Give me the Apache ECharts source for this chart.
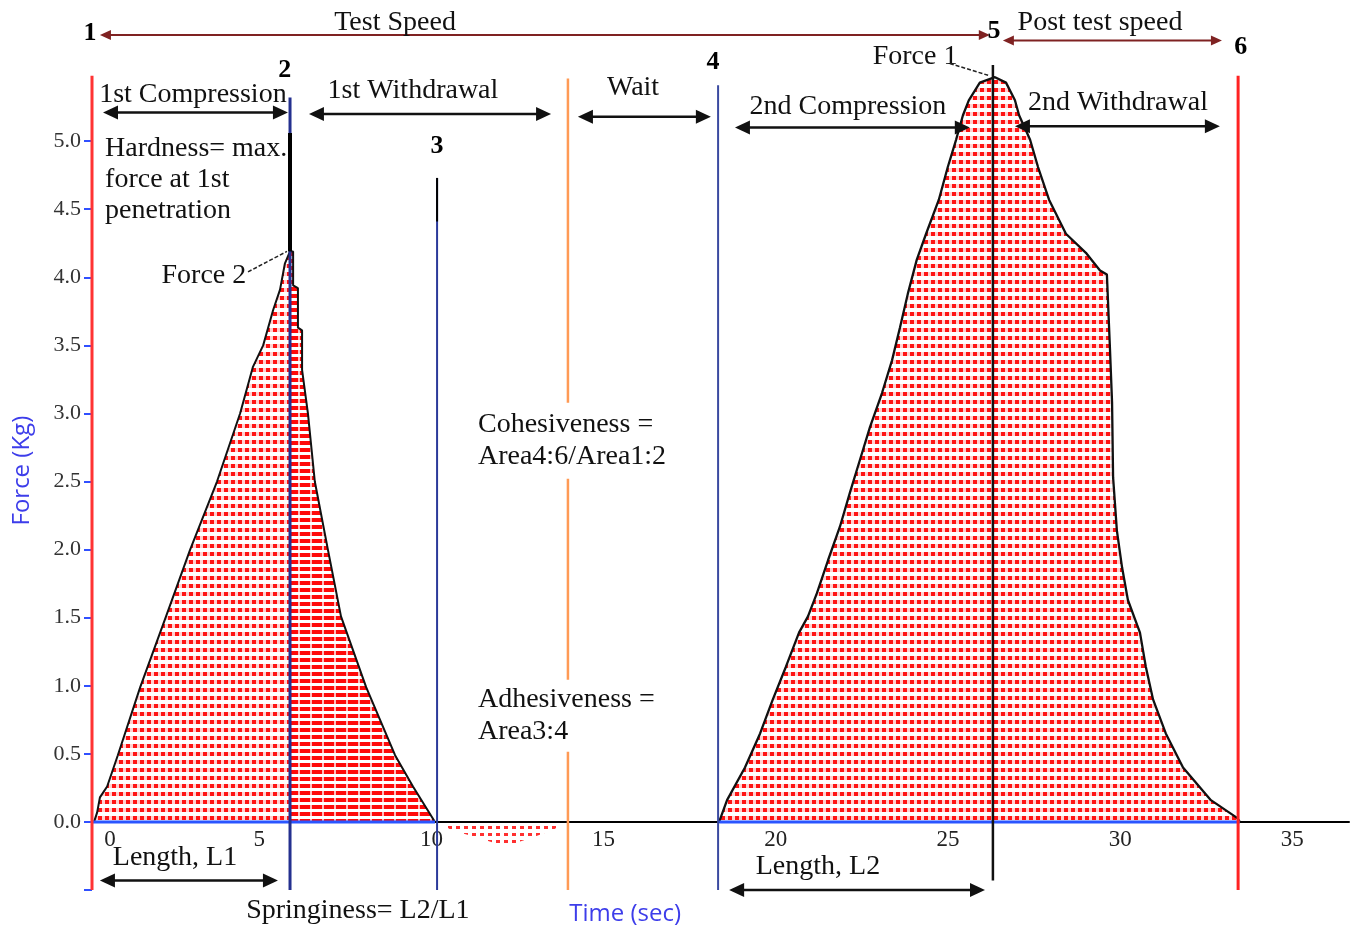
<!DOCTYPE html>
<html><head><meta charset="utf-8">
<script src="https://cdn.jsdelivr.net/npm/echarts@6/dist/echarts.min.js"></script>
<style>html,body{margin:0;padding:0;background:#fff}#c{width:1352px;height:928px}</style>
</head><body><div id="c"></div>
<script>
// ---- data (time in sec, force in kg) ----
const xTickLabels = [0, 5, 10, 15, 20, 25, 30, 35];
const yTickLabels = [0, 0.5, 1.0, 1.5, 2.0, 2.5, 3.0, 3.5, 4.0, 4.5, 5.0];
const yTickMarks = [-0.5, 0, 0.5, 1.0, 1.5, 2.0, 2.5, 3.0, 3.5, 4.0, 4.5, 5.0];

const firstRise = [[0.06,0],[0.15,0.07],[0.23,0.18],[0.44,0.26],[0.75,0.49],[1.40,0.99],[2.15,1.51],
  [2.85,2.00],[3.63,2.50],[4.30,3.00],[4.67,3.34],[4.97,3.50],[5.26,3.76],[5.46,3.91],[5.60,4.10],[5.75,4.19]];
const firstFall = [[5.75,4.19],[5.84,4.19],[5.84,3.94],[5.98,3.92],[5.98,3.63],[6.10,3.61],[6.10,3.32],
  [6.27,3.00],[6.47,2.50],[6.85,2.00],[7.23,1.51],[7.96,0.99],[8.80,0.49],[9.32,0.26],[9.96,0]];
const adhesionDip = [[10.10,0],[10.42,-0.06],[11.26,-0.12],[11.99,-0.18],[12.72,-0.12],[13.39,-0.06],[13.73,0]];
const secondPeak = [[18.21,0],[18.44,0.16],[18.96,0.40],[19.40,0.65],[19.77,0.90],[20.15,1.14],[20.53,1.39],
  [20.79,1.51],[21.05,1.68],[21.37,1.92],[21.72,2.17],[22.01,2.42],[22.30,2.66],[22.59,2.90],[22.94,3.15],
  [23.23,3.39],[23.46,3.63],[23.69,3.88],[23.95,4.13],[24.22,4.32],[24.59,4.57],[24.85,4.81],[25.09,5.01],
  [25.29,5.19],[25.46,5.30],[25.78,5.43],[26.22,5.47],[26.54,5.43],[26.80,5.30],[26.92,5.19],[27.24,5.01],
  [27.47,4.81],[27.79,4.57],[28.28,4.32],[28.86,4.18],[29.27,4.05],[29.47,4.02],[29.56,3.47],[29.62,3.08],
  [29.65,2.53],[29.76,2.14],[29.91,1.87],[30.08,1.63],[30.43,1.39],[30.60,1.14],[30.81,0.90],[31.18,0.65],
  [31.68,0.40],[32.49,0.16],[33.25,0.03],[33.33,0]];
const hardnessSpike = [[5.75,4.19],[5.75,5.06]];
const baselineSpans = [[0, 9.96], [18.21, 33.33]];

// event markers 1..6 plus the wait marker
const eventTimes   = [0, 5.75, 10.02, 13.82, 18.18, 26.16, 33.28];
const eventTops    = [5.48, 5.32, 4.73, 5.46, 5.41, 5.56, 5.48];
const eventBottoms = [-0.5, -0.5, -0.5, -0.5, -0.5, -0.43, -0.5];
const eventNames   = ['1', '2', '3', null, '4', '5', '6'];

// phase arrows
const phaseNames  = ['Test Speed', 'Post test speed', '1st Compression', '1st Withdrawal', 'Wait', '2nd Compression', '2nd Withdrawal', 'Length, L1', 'Length, L2'];
const phaseStarts = [0.23, 26.45, 0.32, 6.30, 14.11, 18.67, 26.80, 0.23, 18.50];
const phaseEnds   = [26.07, 32.81, 5.69, 13.33, 17.97, 25.49, 32.75, 5.40, 25.93];
const phaseLevels = [5.78, 5.74, 5.21, 5.20, 5.18, 5.10, 5.11, -0.43, -0.50];

// ---- patterns ----
function makePattern(w, h, draw) {
  const c = document.createElement('canvas'); c.width = w; c.height = h;
  draw(c.getContext('2d')); return c;
}
const dotPat = makePattern(7, 8, ctx => {
  ctx.fillStyle = 'rgba(255,40,40,0.22)'; ctx.fillRect(0, 0, 7, 4);
  ctx.fillStyle = '#ff1414'; ctx.fillRect(0, 0, 4, 4);
});
const barPat = makePattern(12, 7, ctx => {
  ctx.fillStyle = '#ff0a0a'; ctx.fillRect(0, 0, 10, 4);
  ctx.fillStyle = 'rgba(255,60,60,0.35)'; ctx.fillRect(10, 0, 2, 4);
});
const sparsePat = makePattern(8, 7, ctx => {
  ctx.fillStyle = '#ff3030'; ctx.fillRect(0, 0, 4, 3);
});

const serif = '"Liberation Serif", "DejaVu Serif", serif';
const chart = echarts.init(document.getElementById('c'));

const guideColors = ['#ff3333', '#24308f', '#2b3a9a', '#ff9a55', '#3a4aa0', '#111111', '#ff2222'];
const guideWidths = [3, 3, 2, 2.5, 2, 2.5, 3];

const series = [
  { type: 'line', data: firstRise, symbol: 'none', lineStyle: { color: '#111', width: 2 },
    areaStyle: { color: { image: dotPat, repeat: 'repeat' }, opacity: 1 }, z: 2 },
  { type: 'line', data: firstFall, symbol: 'none', lineStyle: { color: '#111', width: 2 },
    areaStyle: { color: { image: barPat, repeat: 'repeat' }, opacity: 1 }, z: 2 },
  { type: 'line', data: adhesionDip, symbol: 'none', lineStyle: { width: 0, opacity: 0 },
    areaStyle: { color: { image: sparsePat, repeat: 'repeat' }, opacity: 1 }, z: 1 },
  { type: 'line', data: secondPeak, symbol: 'none', lineStyle: { color: '#111', width: 2.3 },
    areaStyle: { color: { image: dotPat, repeat: 'repeat' }, opacity: 1 }, z: 2 }
];
baselineSpans.forEach(s => series.push({ type: 'line', data: [[s[0], 0], [s[1], 0]], symbol: 'none',
  lineStyle: { color: '#2a55ff', width: 3 }, z: 3, clip: false }));
eventTimes.forEach((t, i) => series.push({ type: 'line', data: [[t, eventTops[i]], [t, eventBottoms[i]]],
  symbol: 'none', lineStyle: { color: guideColors[i], width: guideWidths[i] }, z: 4, clip: false }));
series.push({ type: 'line', data: hardnessSpike, symbol: 'none', lineStyle: { color: '#000', width: 4 }, z: 5, clip: false });
series.push({ type: 'line', data: [[eventTimes[2], eventTops[2]], [eventTimes[2], 4.41]], symbol: 'none',
  lineStyle: { color: '#000', width: 2 }, z: 5, clip: false });

chart.setOption({
  animation: false,
  grid: { left: 92, right: 3, top: 5, bottom: 38, containLabel: false, outerBoundsMode: 'none' },
  xAxis: { type: 'value', min: 0, max: 36.5,
    axisLine: { onZero: true, lineStyle: { color: '#000', width: 2 } },
    axisTick: { show: false }, splitLine: { show: false },
    axisLabel: { customValues: xTickLabels, color: '#222', fontFamily: serif, fontSize: 23, margin: -62,
      formatter: v => v === 0 ? '{z|0}' : '{n|' + v + '}',
      rich: { z: { padding: [0, 0, 0, 36], fontFamily: serif, fontSize: 23, color: '#222' },
              n: { padding: [0, 10, 0, 0], fontFamily: serif, fontSize: 23, color: '#222' } } } },
  yAxis: { type: 'value', min: -0.5, max: 6, interval: 0.5,
    axisLine: { show: false }, splitLine: { show: false },
    axisTick: { show: true, customValues: yTickMarks, length: 8, lineStyle: { color: '#3050ff', width: 2 } },
    axisLabel: { customValues: yTickLabels, formatter: v => v.toFixed(1), color: '#333', fontFamily: serif, fontSize: 22, margin: 11 } },
  series: series
});

// ---- annotations placed by data coordinates ----
const P = (x, y) => chart.convertToPixel({ gridIndex: 0 }, [x, y]);
const g = [];
function label(str, x, y, o) {
  const p = P(x, y);
  g.push({ type: 'text', x: p[0], y: p[1], z: 100, style: Object.assign({ text: str, fill: '#111',
    font: '28px ' + serif, align: 'center', verticalAlign: 'middle' }, o || {}) });
}
function arrow(x1, x2, y, color, w, hl, hw) {
  const a = P(x1, y), b = P(x2, y);
  g.push({ type: 'line', z: 100, shape: { x1: a[0] + hl * 0.6, y1: a[1], x2: b[0] - hl * 0.6, y2: b[1] }, style: { stroke: color, lineWidth: w } });
  g.push({ type: 'polygon', z: 100, shape: { points: [[a[0], a[1]], [a[0] + hl, a[1] - hw], [a[0] + hl, a[1] + hw]] }, style: { fill: color } });
  g.push({ type: 'polygon', z: 100, shape: { points: [[b[0], b[1]], [b[0] - hl, b[1] - hw], [b[0] - hl, b[1] + hw]] }, style: { fill: color } });
}
function leader(x1, y1, x2, y2) {
  const a = P(x1, y1), b = P(x2, y2);
  g.push({ type: 'line', z: 100, shape: { x1: a[0], y1: a[1], x2: b[0], y2: b[1] }, style: { stroke: '#222', lineWidth: 1.5, lineDash: [4, 2] } });
}

phaseNames.forEach((n, i) => {
  const red = i < 2;
  arrow(phaseStarts[i], phaseEnds[i], phaseLevels[i], red ? '#7f2222' : '#111', red ? 2 : 2.5, red ? 11 : 15, red ? 5 : 7);
});
const phaseLabelPos = [[8.80, 5.87], [29.27, 5.87], [2.93, 5.34], [9.32, 5.37], [15.71, 5.39], [21.95, 5.25], [29.79, 5.28], [2.41, -0.26], [21.08, -0.33]];
phaseNames.forEach((n, i) => label(n, phaseLabelPos[i][0], phaseLabelPos[i][1]));

const markerPos = [[-0.06, 5.79], [5.60, 5.52], [10.02, 4.96], null, [18.03, 5.58], [26.19, 5.81], [33.36, 5.69]];
eventNames.forEach((n, i) => { if (n) label(n, markerPos[i][0], markerPos[i][1], { font: 'bold 26px ' + serif, fill: '#000' }); });

label('Hardness= max.\nforce at 1st\npenetration', 0.38, 4.72, { align: 'left', lineHeight: 31 });
label('Force 2', 3.25, 4.01);
leader(4.53, 4.04, 5.66, 4.19);
label('Force 1', 23.90, 5.62);
leader(24.91, 5.57, 26.07, 5.48);
label('Cohesiveness =\nArea4:6/Area1:2', 11.12, 2.80, { align: 'left', lineHeight: 32, backgroundColor: '#fff', padding: [2, 3, 10, 3] });
label('Adhesiveness =\nArea3:4', 11.12, 0.78, { align: 'left', lineHeight: 32, backgroundColor: '#fff', padding: [2, 3, 6, 3] });
label('Springiness= L2/L1', 7.72, -0.65);

const sans = '"Open Sans", "DejaVu Sans", sans-serif';
label('Time (sec)', 15.48, -0.68, { font: '24px ' + sans, fill: '#3d3dea' });
const fp = P(-2.03, 2.58);
g.push({ type: 'text', x: fp[0], y: fp[1], rotation: Math.PI / 2, z: 100,
  style: { text: 'Force (Kg)', fill: '#3d3dea', font: '24px ' + sans, align: 'center', verticalAlign: 'middle' } });

chart.setOption({ graphic: g });
</script></body></html>
